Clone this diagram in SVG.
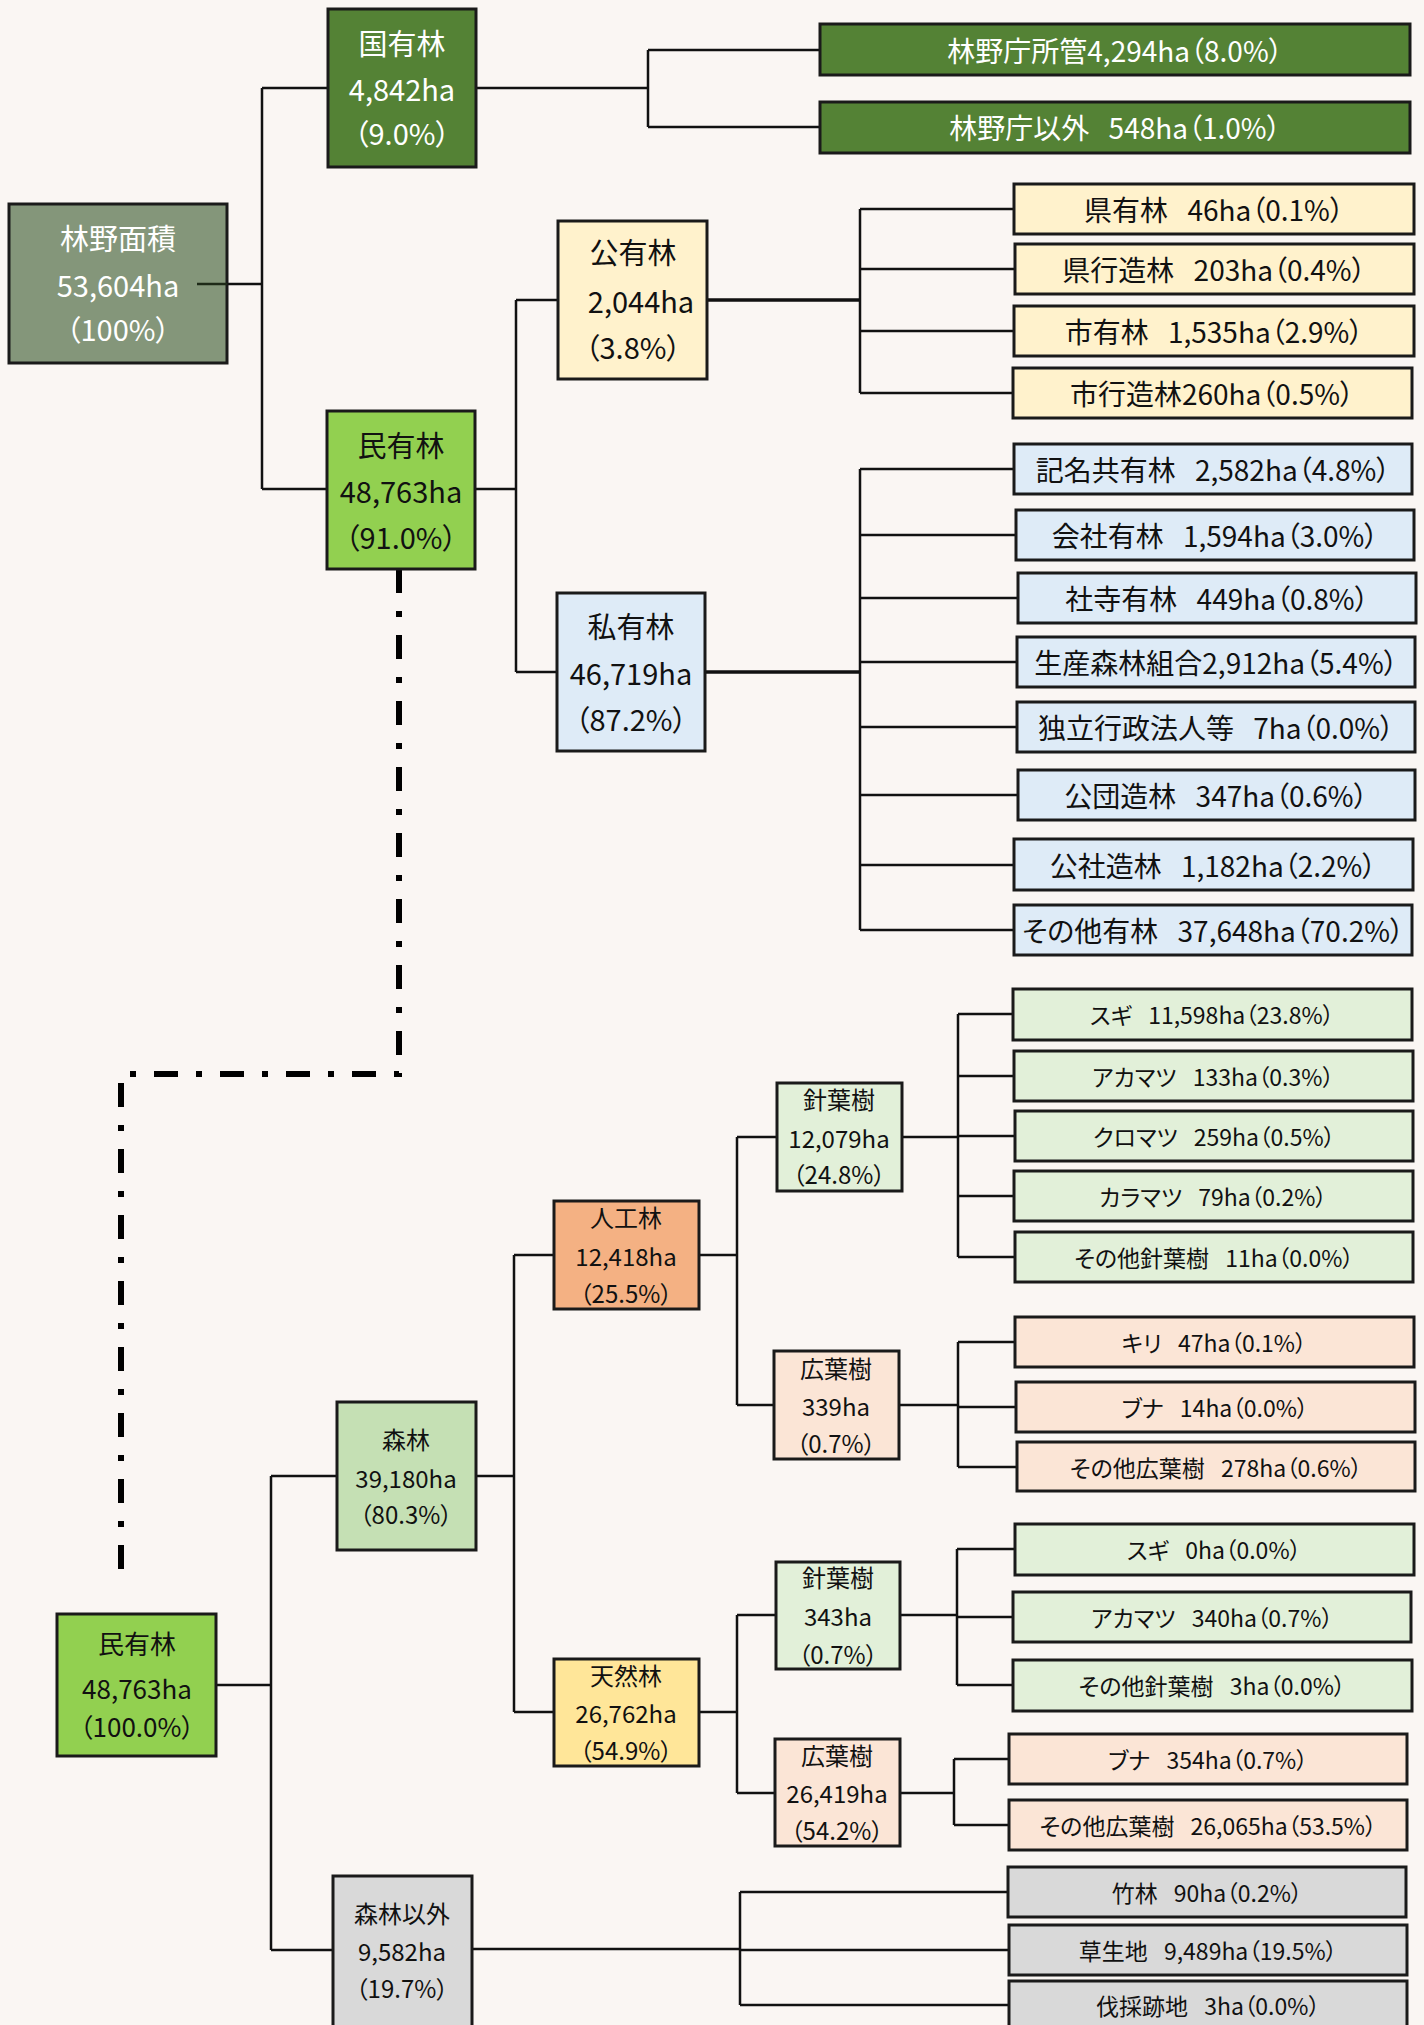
<svg xmlns="http://www.w3.org/2000/svg" width="1424" height="2025" viewBox="0 0 1424 2025">
<style>
text{font-family:"Noto Sans CJK JP","Noto Sans",sans-serif;text-anchor:middle;dominant-baseline:central;fill:#111;font-feature-settings:"palt" 1}
.w{fill:#fff}
.f29{font-size:29px}
.f28{font-size:28px}
.f26{font-size:26px}
.f24{font-size:24px}
.f23{font-size:23px}
rect{stroke:#1a1a1a;stroke-width:3}
.c-total{fill:#84967A}
.c-kuni{fill:#548235}
.c-min{fill:#92D050}
.c-ko{fill:#FFF2CC}
.c-shi{fill:#DEEBF7}
.c-shin{fill:#C5E0B4}
.c-jin{fill:#F4B183}
.c-ten{fill:#FFE699}
.c-hari{fill:#E2F0D9}
.c-hiro{fill:#FBE5D6}
.c-gray{fill:#D9D9D9}
.ln{fill:none;stroke:#111;stroke-width:2.5}
.tk{fill:none;stroke:#111;stroke-width:3.5}
.dash{fill:none;stroke:#000;stroke-width:6;stroke-dasharray:24 18 6 18}
</style>
<rect x="0" y="0" width="1424" height="2025" style="fill:#FAF6F3;stroke:none"/>

<g id="connectors">
<path class="ln" d="M197 284H262M262 88V489M262 88H328M262 489H327"/>
<path class="ln" d="M476 88H648M648 50V127M648 50H820M648 127H820"/>
<path class="ln" d="M475 489H516M516 300V672M516 300H558M516 672H557"/>
<path class="tk" d="M707 300H860"/>
<path class="ln" d="M860 209V393M860 209H1014M860 269H1015M860 331H1014M860 393H1013"/>
<path class="tk" d="M705 672H860"/>
<path class="ln" d="M860 469V930M860 469H1014M860 535H1016M860 598H1018M860 662H1017M860 727H1017M860 795H1018M860 865H1014M860 930H1014"/>
<path class="dash" d="M399 569V1074H121V1569"/>
<path class="ln" d="M216 1685H271M271 1476V1950M271 1476H337M271 1950H333"/>
<path class="ln" d="M476 1476H514M514 1255V1712M514 1255H554M514 1712H554"/>
<path class="ln" d="M699 1255H737M737 1137V1405M737 1137H777M737 1405H774"/>
<path class="ln" d="M902 1137H958M958 1014V1257M958 1014H1013M958 1076H1014M958 1136H1015M958 1196H1014M958 1257H1015"/>
<path class="ln" d="M899 1405H958M958 1342V1467M958 1342H1015M958 1407H1016M958 1467H1017"/>
<path class="ln" d="M699 1712H737M737 1615V1793M737 1615H776M737 1793H775"/>
<path class="ln" d="M900 1615H957M957 1549V1685M957 1549H1015M957 1617H1013M957 1685H1013"/>
<path class="ln" d="M900 1793H954M954 1759V1825M954 1759H1009M954 1825H1009"/>
<path class="ln" d="M472 1949H740M740 1892V2005M740 1892H1008M740 1950H1009M740 2005H1009"/>
</g>

<g id="n-total"><rect class="c-total" x="9" y="204" width="218" height="159"/>
<text class="f29 w" x="118" y="237">林野面積</text><text class="f29 w" x="118" y="284">53,604ha</text><text class="f29 w" x="118" y="328">（100%）</text></g>
<path class="ln" d="M197 284H227" style="stroke:#1e2a18"/>

<g id="n-kuni"><rect class="c-kuni" x="328" y="9" width="148" height="158"/>
<text class="f29 w" x="402" y="42">国有林</text><text class="f29 w" x="402" y="88">4,842ha</text><text class="f29 w" x="402" y="132">（9.0%）</text></g>

<g id="n-min"><rect class="c-min" x="327" y="411" width="148" height="158"/>
<text class="f29" x="401" y="444">民有林</text><text class="f29" x="401" y="490">48,763ha</text><text class="f29" x="401" y="536">（91.0%）</text></g>

<g id="n-koyu"><rect class="c-ko" x="558" y="221" width="149" height="158"/>
<text class="f29" x="633" y="251">公有林</text><text class="f29" x="641" y="300">2,044ha</text><text class="f29" x="633" y="346">（3.8%）</text></g>

<g id="n-shiyu"><rect class="c-shi" x="557" y="593" width="148" height="158"/>
<text class="f29" x="631" y="625">私有林</text><text class="f29" x="631" y="672">46,719ha</text><text class="f29" x="631" y="718">（87.2%）</text></g>

<g id="l-rinya1"><rect class="c-kuni" x="820" y="24" width="590" height="51"/><text class="f28 w" x="1115" y="50">林野庁所管4,294ha（8.0%）</text></g>
<g id="l-rinya2"><rect class="c-kuni" x="820" y="102" width="590" height="51"/><text class="f28 w" x="1115" y="127">林野庁以外<tspan dx="13"> 548ha（1.0%）</tspan></text></g>

<g id="l-ken"><rect class="c-ko" x="1014" y="184" width="400" height="50"/><text class="f28" x="1214" y="209">県有林<tspan dx="13"> 46ha（0.1%）</tspan></text></g>
<g id="l-kenko"><rect class="c-ko" x="1015" y="244" width="399" height="50"/><text class="f28" x="1214" y="269">県行造林<tspan dx="13"> 203ha（0.4%）</tspan></text></g>
<g id="l-shi"><rect class="c-ko" x="1014" y="306" width="400" height="50"/><text class="f28" x="1214" y="331">市有林<tspan dx="13"> 1,535ha（2.9%）</tspan></text></g>
<g id="l-shiko"><rect class="c-ko" x="1013" y="368" width="399" height="50"/><text class="f28" x="1212" y="393">市行造林260ha（0.5%）</text></g>

<g id="l-kimei"><rect class="c-shi" x="1014" y="444" width="398" height="50"/><text class="f28" x="1213" y="469">記名共有林<tspan dx="13"> 2,582ha（4.8%）</tspan></text></g>
<g id="l-kaisha"><rect class="c-shi" x="1016" y="510" width="398" height="50"/><text class="f28" x="1215" y="535">会社有林<tspan dx="13"> 1,594ha（3.0%）</tspan></text></g>
<g id="l-shaji"><rect class="c-shi" x="1018" y="573" width="398" height="50"/><text class="f28" x="1217" y="598">社寺有林<tspan dx="13"> 449ha（0.8%）</tspan></text></g>
<g id="l-seisan"><rect class="c-shi" x="1017" y="637" width="398" height="50"/><text class="f28" x="1216" y="662">生産森林組合2,912ha（5.4%）</text></g>
<g id="l-dokuritsu"><rect class="c-shi" x="1017" y="702" width="398" height="50"/><text class="f28" x="1216" y="727">独立行政法人等<tspan dx="13"> 7ha（0.0%）</tspan></text></g>
<g id="l-kodan"><rect class="c-shi" x="1018" y="770" width="397" height="50"/><text class="f28" x="1216" y="795">公団造林<tspan dx="13"> 347ha（0.6%）</tspan></text></g>
<g id="l-kosha"><rect class="c-shi" x="1014" y="839" width="399" height="51"/><text class="f28" x="1213" y="865">公社造林<tspan dx="13"> 1,182ha（2.2%）</tspan></text></g>
<g id="l-sonota"><rect class="c-shi" x="1014" y="905" width="398" height="50"/><text class="f28" x="1213" y="930">その他有林<tspan dx="13"> 37,648ha（70.2%）</tspan></text></g>

<g id="n-min2"><rect class="c-min" x="57" y="1614" width="159" height="142"/>
<text class="f26" x="137" y="1642">民有林</text><text class="f26" x="137" y="1687">48,763ha</text><text class="f26" x="137" y="1725">（100.0%）</text></g>

<g id="n-shinrin"><rect class="c-shin" x="337" y="1402" width="139" height="148"/>
<text class="f24" x="406" y="1438">森林</text><text class="f24" x="406" y="1477">39,180ha</text><text class="f24" x="406" y="1513">（80.3%）</text></g>

<g id="n-igai"><rect class="c-gray" x="333" y="1876" width="139" height="165"/>
<text class="f24" x="402" y="1912">森林以外</text><text class="f24" x="402" y="1950">9,582ha</text><text class="f24" x="402" y="1987">（19.7%）</text></g>

<g id="n-jinko"><rect class="c-jin" x="554" y="1201" width="145" height="108"/>
<text class="f24" x="626" y="1216">人工林</text><text class="f24" x="626" y="1255">12,418ha</text><text class="f24" x="626" y="1292">（25.5%）</text></g>

<g id="n-tennen"><rect class="c-ten" x="554" y="1659" width="145" height="107"/>
<text class="f24" x="626" y="1674">天然林</text><text class="f24" x="626" y="1712">26,762ha</text><text class="f24" x="626" y="1749">（54.9%）</text></g>

<g id="n-hari1"><rect class="c-hari" x="777" y="1083" width="125" height="108"/>
<text class="f24" x="839" y="1098">針葉樹</text><text class="f24" x="839" y="1137">12,079ha</text><text class="f24" x="839" y="1173">（24.8%）</text></g>

<g id="n-hiro1"><rect class="c-hiro" x="774" y="1351" width="125" height="108"/>
<text class="f24" x="836" y="1367">広葉樹</text><text class="f24" x="836" y="1405">339ha</text><text class="f24" x="836" y="1442">（0.7%）</text></g>

<g id="n-hari2"><rect class="c-hari" x="776" y="1562" width="124" height="107"/>
<text class="f24" x="838" y="1576">針葉樹</text><text class="f24" x="838" y="1615">343ha</text><text class="f24" x="838" y="1653">（0.7%）</text></g>

<g id="n-hiro2"><rect class="c-hiro" x="775" y="1739" width="125" height="107"/>
<text class="f24" x="837" y="1754">広葉樹</text><text class="f24" x="837" y="1792">26,419ha</text><text class="f24" x="837" y="1829">（54.2%）</text></g>

<g id="l-sugi1"><rect class="c-hari" x="1013" y="989" width="399" height="51"/><text class="f23" x="1212" y="1014">スギ<tspan dx="11"> 11,598ha（23.8%）</tspan></text></g>
<g id="l-akamatsu1"><rect class="c-hari" x="1014" y="1051" width="399" height="50"/><text class="f23" x="1213" y="1076">アカマツ<tspan dx="11"> 133ha（0.3%）</tspan></text></g>
<g id="l-kuromatsu"><rect class="c-hari" x="1015" y="1111" width="398" height="50"/><text class="f23" x="1214" y="1136">クロマツ<tspan dx="11"> 259ha（0.5%）</tspan></text></g>
<g id="l-karamatsu"><rect class="c-hari" x="1014" y="1171" width="399" height="50"/><text class="f23" x="1213" y="1196">カラマツ<tspan dx="11"> 79ha（0.2%）</tspan></text></g>
<g id="l-sonohari1"><rect class="c-hari" x="1015" y="1232" width="398" height="50"/><text class="f23" x="1214" y="1257">その他針葉樹<tspan dx="11"> 11ha（0.0%）</tspan></text></g>
<g id="l-kiri"><rect class="c-hiro" x="1015" y="1317" width="399" height="50"/><text class="f23" x="1214" y="1342">キリ<tspan dx="11"> 47ha（0.1%）</tspan></text></g>
<g id="l-buna1"><rect class="c-hiro" x="1016" y="1382" width="399" height="50"/><text class="f23" x="1215" y="1407">ブナ<tspan dx="11"> 14ha（0.0%）</tspan></text></g>
<g id="l-sonohiro1"><rect class="c-hiro" x="1017" y="1442" width="398" height="49"/><text class="f23" x="1216" y="1467">その他広葉樹<tspan dx="11"> 278ha（0.6%）</tspan></text></g>
<g id="l-sugi2"><rect class="c-hari" x="1015" y="1524" width="399" height="51"/><text class="f23" x="1214" y="1549">スギ<tspan dx="11"> 0ha（0.0%）</tspan></text></g>
<g id="l-akamatsu2"><rect class="c-hari" x="1013" y="1592" width="398" height="50"/><text class="f23" x="1212" y="1617">アカマツ<tspan dx="11"> 340ha（0.7%）</tspan></text></g>
<g id="l-sonohari2"><rect class="c-hari" x="1013" y="1660" width="399" height="51"/><text class="f23" x="1212" y="1685">その他針葉樹<tspan dx="11"> 3ha（0.0%）</tspan></text></g>
<g id="l-buna2"><rect class="c-hiro" x="1009" y="1734" width="398" height="50"/><text class="f23" x="1208" y="1759">ブナ<tspan dx="11"> 354ha（0.7%）</tspan></text></g>
<g id="l-sonohiro2"><rect class="c-hiro" x="1009" y="1800" width="398" height="50"/><text class="f23" x="1208" y="1825">その他広葉樹<tspan dx="11"> 26,065ha（53.5%）</tspan></text></g>
<g id="l-chiku"><rect class="c-gray" x="1008" y="1867" width="398" height="50"/><text class="f23" x="1207" y="1892">竹林<tspan dx="11"> 90ha（0.2%）</tspan></text></g>
<g id="l-sosei"><rect class="c-gray" x="1009" y="1925" width="398" height="50"/><text class="f23" x="1208" y="1950">草生地<tspan dx="11"> 9,489ha（19.5%）</tspan></text></g>
<g id="l-bassai"><rect class="c-gray" x="1009" y="1981" width="398" height="60"/><text class="f23" x="1208" y="2005">伐採跡地<tspan dx="11"> 3ha（0.0%）</tspan></text></g>
</svg>
